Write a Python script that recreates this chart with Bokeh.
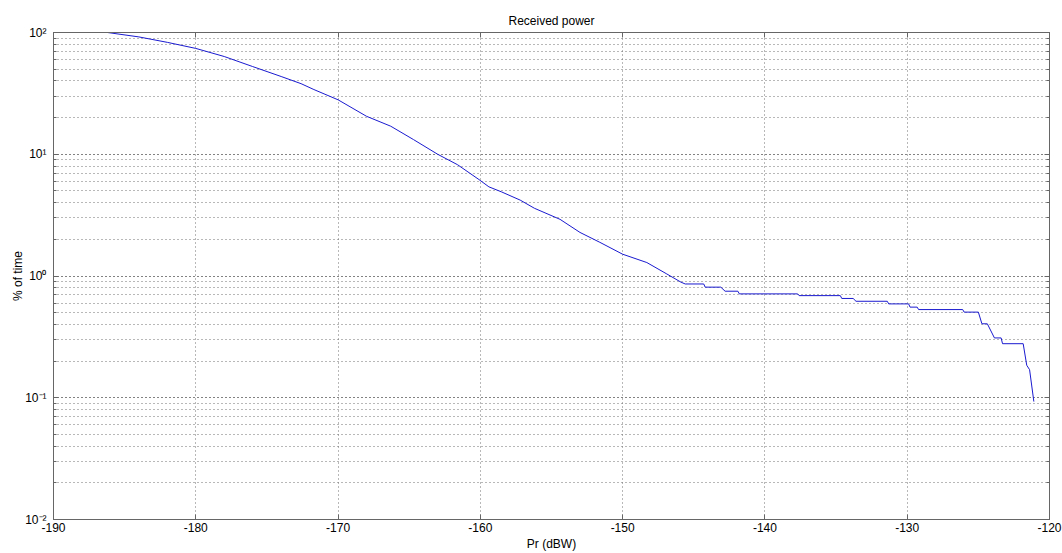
from bokeh.plotting import figure
from bokeh.models import (FixedTicker, LogTicker, CustomJSTickFormatter, LinearAxis, LogAxis)
from bokeh.embed import file_html
from bokeh.resources import INLINE

# Received power (dBW) vs % of time (exceedance curve)
pr_dbw = [-186.2, -184.0, -182.0, -180.0, -178.0, -176.0, -174.0, -172.6, -171.7,
          -170.0, -168.0, -166.3, -164.7, -163.0, -161.6, -160.1, -159.4, -158.5,
          -157.2, -156.2, -154.4, -153.0, -151.6, -150.0, -148.3, -146.9, -145.9,
          -145.6, -144.3, -144.2, -143.1, -142.8, -141.9, -141.8, -137.7, -137.6,
          -134.7, -134.6, -133.8, -133.6, -131.4, -131.3, -129.9, -129.8, -129.3,
          -129.2, -126.1, -126.0, -125.0, -124.75, -124.37, -123.87, -123.4, -123.3,
          -121.85, -121.6, -121.4, -121.1]
pct_time = [100.0, 92.0, 83.0, 74.0, 63.5, 52.5, 43.5, 38.0, 34.0,
            28.0, 20.5, 17.0, 13.2, 10.0, 8.2, 6.2, 5.4, 4.9,
            4.2, 3.6, 2.92, 2.28, 1.89, 1.51, 1.29, 1.04, 0.89,
            0.86, 0.86, 0.81, 0.81, 0.75, 0.75, 0.713, 0.713, 0.69,
            0.69, 0.654, 0.654, 0.62, 0.62, 0.59, 0.59, 0.555, 0.555,
            0.53, 0.53, 0.505, 0.505, 0.405, 0.405, 0.31, 0.31, 0.278,
            0.278, 0.185, 0.17, 0.093]

x_ticks = [-190, -180, -170, -160, -150, -140, -130, -120]

FONT = "Liberation Sans"
GRID = "#707070"
AXIS = "#666666"

p = figure(width=1062, height=553, y_axis_type="log",
           x_range=(-190, -120), y_range=(0.01, 100),
           output_backend="svg", toolbar_location=None,
           min_border_left=53, min_border_right=13,
           min_border_top=32, min_border_bottom=31,
           title="Received power")

p.title.align = "center"
p.title.text_font = FONT
p.title.text_font_size = "12px"
p.title.text_font_style = "normal"
p.title.text_color = "#000000"
p.title.offset = 0

p.background_fill_color = "white"
p.border_fill_color = "white"
p.outline_line_color = AXIS
p.outline_line_width = 1

sup_fmt = CustomJSTickFormatter(code="""
const e = Math.round(Math.log10(tick));
const sup = {'-':'\u207b','0':'\u2070','1':'\u00b9','2':'\u00b2','3':'\u00b3','4':'\u2074','5':'\u2075','6':'\u2076','7':'\u2077','8':'\u2078','9':'\u2079'};
return '10' + String(e).split('').map(c => sup[c]).join('');
""")
x_fmt = CustomJSTickFormatter(code="return tick.toFixed(0);")

xa = p.xaxis[0]
xa.ticker = FixedTicker(ticks=x_ticks)
xa.formatter = x_fmt
xa.axis_label = "Pr (dBW)"
ya = p.yaxis[0]
ya.ticker = LogTicker(num_minor_ticks=10)
ya.formatter = sup_fmt
ya.axis_label = "% of time"

for ax in (xa, ya):
    ax.axis_line_color = AXIS
    ax.major_tick_line_color = AXIS
    ax.minor_tick_line_color = AXIS
    ax.major_tick_in = 5
    ax.major_tick_out = 0
    ax.minor_tick_in = 3
    ax.minor_tick_out = 0
    ax.major_label_text_font = FONT
    ax.major_label_text_font_size = "12px"
    ax.major_label_text_color = "#000000"
    ax.axis_label_text_font = FONT
    ax.axis_label_text_font_size = "12px"
    ax.axis_label_text_font_style = "normal"
    ax.axis_label_text_color = "#000000"
xa.minor_tick_line_color = None
xa.major_label_standoff = 3
xa.axis_label_standoff = 2
ya.major_label_standoff = 7
ya.axis_label_standoff = -3

# mirrored axes (top/right) with inward ticks only
top = LinearAxis(ticker=FixedTicker(ticks=x_ticks), major_label_text_color=None,
                 major_label_text_font_size="1px",
                 major_label_standoff=0, axis_line_color=AXIS, major_tick_line_color=AXIS,
                 major_tick_in=5, major_tick_out=0, minor_tick_line_color=None)
right = LogAxis(ticker=LogTicker(num_minor_ticks=10), major_label_text_color=None,
                major_label_text_font_size="1px",
                major_label_standoff=0, axis_line_color=AXIS, major_tick_line_color=AXIS,
                minor_tick_line_color=AXIS, major_tick_in=5, major_tick_out=0,
                minor_tick_in=3, minor_tick_out=0)
p.add_layout(top, "above")
p.add_layout(right, "right")

p.xgrid.ticker = FixedTicker(ticks=x_ticks)
p.xgrid.grid_line_color = GRID
p.xgrid.grid_line_dash = "1 3"
p.xgrid.grid_line_width = 1
p.ygrid.grid_line_color = GRID
p.ygrid.grid_line_dash = "1 3"
p.ygrid.minor_grid_line_color = GRID
p.ygrid.minor_grid_line_dash = "1 3"

p.line(pr_dbw, pct_time, line_color="#1a1ad0", line_width=1)

open("out.html", "w").write(file_html(p, INLINE))
